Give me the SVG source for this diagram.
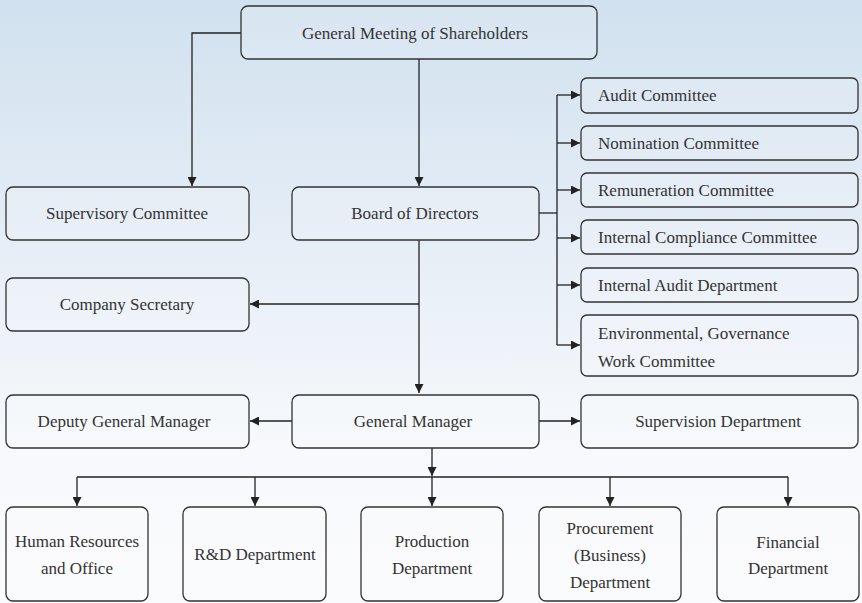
<svg xmlns="http://www.w3.org/2000/svg" width="862" height="603" viewBox="0 0 862 603">
<defs>
<linearGradient id="bg" x1="0" y1="0" x2="0" y2="1">
<stop offset="0" stop-color="#d1e1ef"/>
<stop offset="0.45" stop-color="#e8eff7"/>
<stop offset="0.75" stop-color="#f7f9fc"/>
<stop offset="1" stop-color="#fafbfd"/>
</linearGradient>
<marker id="ah" viewBox="0 0 10 10" refX="10" refY="5" markerWidth="9" markerHeight="9" markerUnits="userSpaceOnUse" orient="auto">
<path d="M0,0 L10,5 L0,10 Z" fill="#222"/>
</marker>
</defs>
<style>
.box{fill:#ffffff;fill-opacity:0.15;stroke:#333;stroke-width:1.3}
.t{font-family:"Liberation Serif","Times New Roman",serif;font-size:17px;fill:#333;text-anchor:middle}
.tl{font-family:"Liberation Serif","Times New Roman",serif;font-size:17px;fill:#333;text-anchor:start}
.c{fill:none;stroke:#222;stroke-width:1.3}
</style>
<rect x="0" y="0" width="862" height="603" fill="url(#bg)"/>

<g id="connectors">
<path class="c" d="M241,33 H192 V186" marker-end="url(#ah)"/>
<path class="c" d="M419,59 V186" marker-end="url(#ah)"/>
<path class="c" d="M419,240 V393" marker-end="url(#ah)"/>
<path class="c" d="M419,304 H250" marker-end="url(#ah)"/>
<path class="c" d="M539,213 H557"/>
<path class="c" d="M557,95 V345"/>
<path class="c" d="M557,95 H580" marker-end="url(#ah)"/>
<path class="c" d="M557,143 H580" marker-end="url(#ah)"/>
<path class="c" d="M557,190 H580" marker-end="url(#ah)"/>
<path class="c" d="M557,238 H580" marker-end="url(#ah)"/>
<path class="c" d="M557,285 H580" marker-end="url(#ah)"/>
<path class="c" d="M557,345 H580" marker-end="url(#ah)"/>
<path class="c" d="M292,421 H250" marker-end="url(#ah)"/>
<path class="c" d="M539,421 H580" marker-end="url(#ah)"/>
<path class="c" d="M432,448 V476" marker-end="url(#ah)"/>
<path class="c" d="M77,477 H788"/>
<path class="c" d="M77,477 V506" marker-end="url(#ah)"/>
<path class="c" d="M255,477 V506" marker-end="url(#ah)"/>
<path class="c" d="M432,477 V506" marker-end="url(#ah)"/>
<path class="c" d="M610,477 V506" marker-end="url(#ah)"/>
<path class="c" d="M788,477 V506" marker-end="url(#ah)"/>
</g>

<g id="gms"><rect class="box" x="241" y="6" width="356" height="53" rx="7"/><text class="t" x="415" y="39">General Meeting of Shareholders</text></g>
<g id="supervisory"><rect class="box" x="6" y="187" width="243" height="53" rx="7"/><text class="t" x="127" y="219">Supervisory Committee</text></g>
<g id="board"><rect class="box" x="292" y="187" width="247" height="53" rx="7"/><text class="t" x="415" y="219">Board of Directors</text></g>
<g id="secretary"><rect class="box" x="6" y="278" width="243" height="53" rx="7"/><text class="t" x="127" y="310">Company Secretary</text></g>

<g id="audit"><rect class="box" x="581" y="78" width="277" height="35" rx="6"/><text class="tl" x="598" y="101">Audit Committee</text></g>
<g id="nomination"><rect class="box" x="581" y="126" width="277" height="34" rx="6"/><text class="tl" x="598" y="149">Nomination Committee</text></g>
<g id="remuneration"><rect class="box" x="581" y="173" width="277" height="34" rx="6"/><text class="tl" x="598" y="196">Remuneration Committee</text></g>
<g id="compliance"><rect class="box" x="581" y="220" width="277" height="34" rx="6"/><text class="tl" x="598" y="243">Internal Compliance Committee</text></g>
<g id="internalaudit"><rect class="box" x="581" y="268" width="277" height="34" rx="6"/><text class="tl" x="598" y="291">Internal Audit Department</text></g>
<g id="environmental"><rect class="box" x="581" y="315" width="277" height="61" rx="6"/><text class="tl" x="598" y="339">Environmental, Governance</text><text class="tl" x="598" y="367">Work Committee</text></g>

<g id="deputy"><rect class="box" x="6" y="395" width="243" height="53" rx="7"/><text class="t" x="124" y="427">Deputy General Manager</text></g>
<g id="gm"><rect class="box" x="292" y="395" width="247" height="53" rx="7"/><text class="t" x="413" y="427">General Manager</text></g>
<g id="supervision"><rect class="box" x="581" y="395" width="277" height="53" rx="7"/><text class="t" x="718" y="427">Supervision Department</text></g>

<g id="hr"><rect class="box" x="6" y="507" width="142" height="94" rx="7"/><text class="t" x="77" y="547">Human Resources</text><text class="t" x="77" y="574">and Office</text></g>
<g id="rd"><rect class="box" x="183" y="507" width="143" height="94" rx="7"/><text class="t" x="255" y="560">R&amp;D Department</text></g>
<g id="production"><rect class="box" x="361" y="507" width="142" height="94" rx="7"/><text class="t" x="432" y="547">Production</text><text class="t" x="432" y="574">Department</text></g>
<g id="procurement"><rect class="box" x="539" y="507" width="142" height="94" rx="7"/><text class="t" x="610" y="534">Procurement</text><text class="t" x="610" y="561">(Business)</text><text class="t" x="610" y="588">Department</text></g>
<g id="financial"><rect class="box" x="717" y="507" width="142" height="94" rx="7"/><text class="t" x="788" y="548">Financial</text><text class="t" x="788" y="574">Department</text></g>
</svg>
